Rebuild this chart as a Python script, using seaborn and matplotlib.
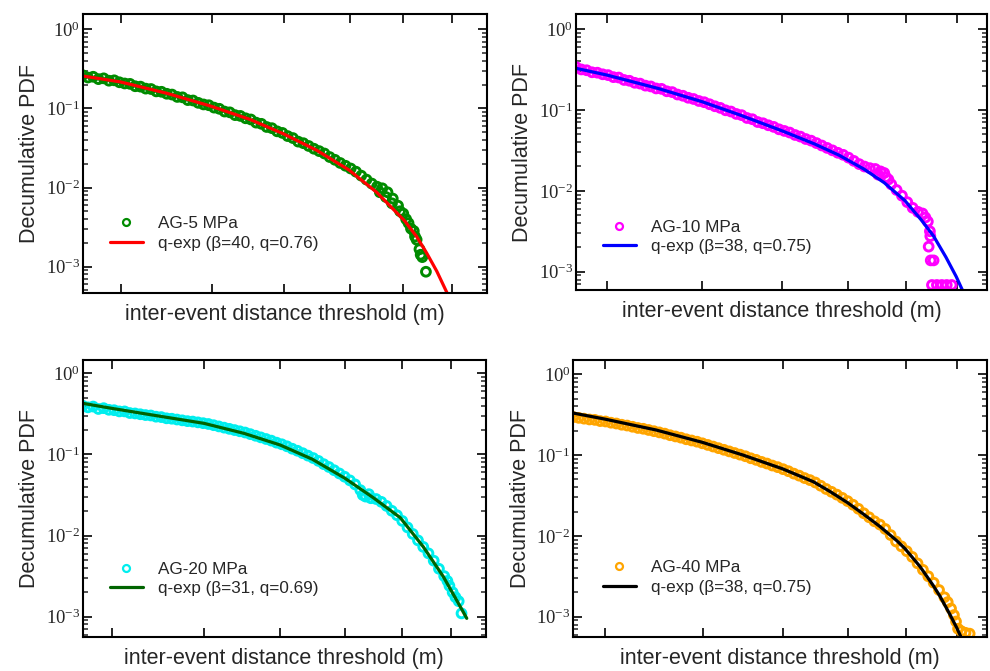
import numpy as np
import pandas as pd
import matplotlib
matplotlib.use("Agg")
import matplotlib.pyplot as plt
import seaborn as sns
from matplotlib.lines import Line2D

# ---------------- data ----------------
# x: inter-event distance threshold (axis units 0-100, no tick labels in original)
# y: decumulative PDF, stored as log10 values read on the log axis
sample_x = [0, 1.3, 2.6, 3.9, 5.2, 6.5, 7.8, 9.1, 10.4, 11.7, 13.0, 14.3, 15.6, 16.9,
            18.2, 19.5, 20.8, 22.1, 23.4, 24.7, 26.0, 27.3, 28.6, 29.9, 31.2, 32.5,
            33.8, 35.1, 36.4, 37.7, 39.0, 40.3, 41.6, 42.9, 44.2, 45.5, 46.8, 48.1,
            49.4, 50.7, 52.0, 53.3, 54.6, 55.9, 57.2, 58.5, 59.8, 61.1, 62.4, 63.7,
            65.0, 66.3, 67.6, 68.9, 70.2, 71.5, 72.8, 74.1, 75.4, 76.7, 78.0, 79.3,
            80.6, 81.9, 83.2, 84.5, 85.8, 87.1, 88.4, 89.7]

# AG-5 MPa
ag5_x = sample_x[:64] + [82.6, 83.3, 84.0, 73.5, 75.0, 76.5, 78.5, 80.0, 81.2, 82.2, 83.6, 84.9]
ag5_log = [-0.58, -0.61, -0.60, -0.63, -0.62, -0.65, -0.645, -0.67,
           -0.685, -0.69, -0.72, -0.725, -0.75, -0.755, -0.785, -0.79,
           -0.815, -0.825, -0.855, -0.86, -0.895, -0.90, -0.93, -0.95, -0.96,
           -0.99, -1.005, -1.04, -1.05, -1.085, -1.095, -1.125,
           -1.14, -1.18, -1.195, -1.235, -1.25, -1.29, -1.31,
           -1.35, -1.375, -1.42, -1.44, -1.475, -1.51,
           -1.54, -1.57, -1.615, -1.65, -1.69, -1.725,
           -1.76, -1.80, -1.85, -1.90, -1.95,
           -1.99, -2.01, -2.06, -2.14, -2.23, -2.33,
           -2.45, -2.55,
           -2.66, -2.78, -2.88,
           -2.06, -2.12, -2.20, -2.30, -2.40, -2.52, -2.62, -2.85, -3.065]
fit5_x = [0, 9.4, 20.8, 31.6, 41.4, 49.6, 57.9, 65.9, 72.7, 79.6, 82.6, 85.1, 87.6, 90.1]
fit5_log = [-0.59, -0.666, -0.809, -0.970, -1.14, -1.32, -1.53, -1.78, -2.06, -2.42,
            -2.62, -2.83, -3.06, -3.33]

# AG-10 MPa
ag10_x = sample_x[:65] + [84.3, 85.0, 85.6, 86.1, 86.2, 85.8, 86.3, 87.0, 86.6, 87.8,
                          89.0, 90.2, 91.4, 73.5, 75.0, 76.0]
ag10_log = [-0.47, -0.50, -0.51, -0.535, -0.54, -0.56, -0.57, -0.595, -0.60, -0.63,
            -0.64, -0.665, -0.675, -0.70, -0.71, -0.735, -0.74, -0.77, -0.78, -0.81,
            -0.825, -0.85, -0.865, -0.89, -0.905, -0.93, -0.955, -0.975, -1.005, -1.02,
            -1.05, -1.065, -1.10, -1.115, -1.15, -1.165, -1.19, -1.21, -1.24, -1.26,
            -1.28, -1.31, -1.33, -1.36, -1.38, -1.41, -1.44, -1.47, -1.50, -1.53,
            -1.555, -1.59, -1.63, -1.67, -1.70, -1.72, -1.73, -1.76, -1.83, -1.92,
            -1.99, -2.06, -2.14, -2.21, -2.26,
            -2.28, -2.33, -2.38, -2.50, -2.56, -2.69, -2.86, -2.86, -3.164, -3.164,
            -3.164, -3.164, -3.164, -1.80, -1.78, -1.86]
fit10_x = [0, 7.5, 20, 30.7, 40, 50.2, 58, 64, 70, 75, 80, 84, 87, 90, 92.5, 94]
fit10_log = [-0.486, -0.569, -0.735, -0.899, -1.065, -1.26, -1.42, -1.56, -1.73, -1.90,
             -2.12, -2.36, -2.56, -2.82, -3.06, -3.226]

# AG-20 MPa
ag20_x = sample_x + [90.5, 91.0, 91.8, 92.5, 93.3, 94.0, 69.5, 71.0]
ag20_log = [-0.40, -0.42, -0.41, -0.44, -0.43, -0.45, -0.455, -0.47, -0.47, -0.49,
            -0.495, -0.505, -0.515, -0.52, -0.535, -0.54, -0.555, -0.56, -0.57, -0.58,
            -0.59, -0.595, -0.605, -0.615, -0.625, -0.64, -0.655, -0.67, -0.685, -0.70,
            -0.715, -0.73, -0.75, -0.77, -0.79, -0.81, -0.83, -0.855, -0.875, -0.90,
            -0.93, -0.955, -0.985, -1.015, -1.045, -1.08, -1.12, -1.155, -1.195, -1.235,
            -1.275, -1.32, -1.37, -1.44, -1.52, -1.54, -1.55, -1.585, -1.635, -1.695,
            -1.75, -1.82, -1.90, -1.98, -2.06, -2.14, -2.22, -2.31, -2.41, -2.50,
            -2.56, -2.62, -2.70, -2.76, -2.81, -2.96, -1.50, -1.49]
fit20_x = [0, 7.2, 18, 30.1, 40, 49.0, 57, 65.1, 72, 78.8, 84.5, 87.0, 89.5, 91.6, 93.5, 95.3]
fit20_log = [-0.370, -0.432, -0.52, -0.617, -0.74, -0.884, -1.06, -1.295, -1.53, -1.78,
             -2.138, -2.323, -2.508, -2.693, -2.86, -3.021]

# AG-40 MPa
ag40_x = sample_x + [90.5, 91.3, 92.0, 92.5, 93.0, 93.8, 94.8, 95.8]
ag40_log = [-0.53, -0.54, -0.55, -0.56, -0.565, -0.58, -0.585, -0.60, -0.61, -0.625,
            -0.635, -0.65, -0.665, -0.675, -0.69, -0.705, -0.72, -0.735, -0.755, -0.77,
            -0.785, -0.805, -0.82, -0.835, -0.855, -0.875, -0.895, -0.915, -0.935, -0.955,
            -0.975, -0.995, -1.015, -1.04, -1.06, -1.085, -1.105, -1.13, -1.15, -1.175,
            -1.20, -1.23, -1.255, -1.285, -1.31, -1.34, -1.38, -1.42, -1.455, -1.49,
            -1.53, -1.57, -1.615, -1.665, -1.72, -1.77, -1.82, -1.86, -1.915, -1.99,
            -2.07, -2.13, -2.19, -2.26, -2.34, -2.42, -2.50, -2.58, -2.67, -2.76,
            -2.82, -2.90, -2.98, -3.06, -3.15, -3.18, -3.20, -3.21]
fit40_x = [0, 7.6, 20, 31.2, 41, 50.6, 58, 62, 66.3, 70.1, 74, 78.2, 80.2, 83.8, 87.0,
           88.6, 91.0, 92.7, 93.6]
fit40_log = [-0.481, -0.555, -0.69, -0.843, -1.0, -1.171, -1.33, -1.45, -1.59, -1.73,
             -1.88, -2.06, -2.16, -2.38, -2.615, -2.745, -2.97, -3.14, -3.24]

labels_data = ["AG-5 MPa", "AG-10 MPa", "AG-20 MPa", "AG-40 MPa"]
labels_fit = ["q-exp (β=40, q=0.76)", "q-exp (β=38, q=0.75)",
              "q-exp (β=31, q=0.69)", "q-exp (β=38, q=0.75)"]

# ---------------- style ----------------
sns.set_style("white")
plt.rcParams["font.family"] = ["Liberation Sans", "DejaVu Sans"]
plt.rcParams["axes.linewidth"] = 1.5

fig = plt.figure(figsize=(9.9, 6.71), dpi=100)

panels = [
    dict(pos=[0.0835, 0.5633, 0.4084, 0.4158], x=ag5_x, ly=ag5_log, fx=fit5_x, fly=fit5_log,
         dc="#008b00", lc="#ff0000", ylog=(-3.334, 0.193),
         ticks=[9.5, 32.0, 49.8, 66.1, 79.2, 91.3], leg=(0.068, 0.152)),
    dict(pos=[0.5818, 0.5678, 0.4152, 0.4113], x=ag10_x, ly=ag10_log, fx=fit10_x, fly=fit10_log,
         dc="#ff00ff", lc="#0000ff", ylog=(-3.226, 0.185),
         ticks=[7.5, 30.7, 50.1, 66.2, 80.3, 92.7], leg=(0.066, 0.13)),
    dict(pos=[0.0835, 0.0514, 0.4071, 0.4121], x=ag20_x, ly=ag20_log, fx=fit20_x, fly=fit20_log,
         dc="#00eeee", lc="#006400", ylog=(-3.245, 0.164),
         ticks=[7.2, 30.1, 49.0, 65.1, 79.2, 91.3], leg=(0.068, 0.146)),
    dict(pos=[0.5791, 0.0511, 0.4179, 0.4124], x=ag40_x, ly=ag40_log, fx=fit40_x, fly=fit40_log,
         dc="#ffa500", lc="#000000", ylog=(-3.248, 0.176),
         ticks=[7.7, 31.3, 50.6, 66.3, 80.4, 92.7], leg=(0.072, 0.152)),
]

for i, p in enumerate(panels):
    ax = fig.add_axes(p["pos"])
    ax.set_yscale("log")
    dfd = pd.DataFrame({"x": p["x"], "y": 10 ** np.array(p["ly"], dtype=float)})
    dff = pd.DataFrame({"x": p["fx"], "y": 10 ** np.array(p["fly"], dtype=float)})
    sns.scatterplot(data=dfd, x="x", y="y", ax=ax, marker="o", s=40,
                    facecolor="none", edgecolor=p["dc"], linewidth=2.1, legend=False)
    sns.lineplot(data=dff, x="x", y="y", ax=ax, color=p["lc"], linewidth=2.3,
                 estimator=None, sort=True, legend=False)
    ax.set_xlim(0, 100)
    ax.set_ylim(10 ** p["ylog"][0], 10 ** p["ylog"][1])
    ax.set_xticks(p["ticks"])
    ax.set_xticklabels([])
    ax.tick_params(axis="x", which="major", direction="in", length=6.5, width=1.4,
                   top=True, bottom=True, labelbottom=False)
    ax.tick_params(axis="y", which="major", direction="in", length=6.5, width=1.4,
                   left=True, right=True, pad=2, labelsize=13.5,
                   labelfontfamily="Liberation Serif")
    ax.tick_params(axis="y", which="minor", direction="in", length=3.5, width=1.1,
                   left=True, right=True)
    ax.yaxis.set_major_locator(matplotlib.ticker.LogLocator(base=10, numticks=10))
    ax.yaxis.set_minor_locator(matplotlib.ticker.LogLocator(base=10, subs=np.arange(2, 10), numticks=20))
    ax.yaxis.set_minor_formatter(matplotlib.ticker.NullFormatter())
    for s in ax.spines.values():
        s.set_visible(True)
        s.set_color("black")
        s.set_linewidth(1.5)
    ax.set_xlabel("inter-event distance threshold (m)", fontsize=15.5, labelpad=8)
    ax.set_ylabel("Decumulative PDF", fontsize=15.5, labelpad=4)

    handles = [
        Line2D([], [], linestyle="none", marker="o", markersize=5, markerfacecolor="none",
               markeredgecolor=p["dc"], markeredgewidth=1.6),
        Line2D([], [], color=p["lc"], linewidth=2.3),
    ]
    ax.legend(handles, [labels_data[i], labels_fit[i]], loc="lower left",
              bbox_to_anchor=p["leg"], frameon=False, fontsize=12.3, borderpad=0,
              borderaxespad=0, handlelength=1.9, handletextpad=0.9, labelspacing=0.25)

fig.savefig("out.png", dpi=100, facecolor="white")
